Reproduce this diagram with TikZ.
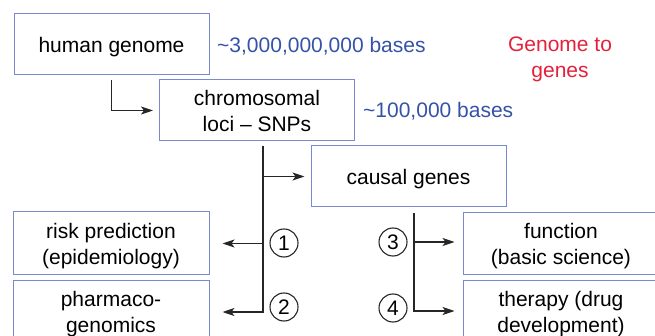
\documentclass[tikz,border=0pt]{standalone}
\usepackage{fontspec}
\setmainfont{Liberation Sans}
\usetikzlibrary{arrows.meta}
\definecolor{boxline}{RGB}{120,138,206}
\definecolor{basesblue}{RGB}{52,82,168}
\definecolor{titlered}{RGB}{228,32,58}
\begin{document}
\begin{tikzpicture}[x=1pt, y=-1pt, >={Stealth[length=12pt,width=8pt,inset=3pt]},
    font=\fontsize{21}{26}\selectfont]
      \tikzstyle{stage}=[draw=boxline, line width=1pt, rectangle, align=center,
        minimum width=195pt, minimum height=61pt, inner sep=0pt, text depth=0pt]
      \tikzstyle{link}=[->, line width=1.3pt, draw=black!85]
      \tikzstyle{num}=[circle, draw=black!85, line width=1.1pt, minimum size=28pt, inner sep=0pt]
      \useasboundingbox (0,0) rectangle (655,336);
      \clip (0,0) rectangle (655,336);
      % boxes
      \node[stage] (genome) at (111.5,44.5) {human genome};
      \node[stage] (loci) at (257,110.5) {chromosomal\\loci -- SNPs};
      \node[stage] (causal) at (408.5,176.5) {causal genes};
      \node[stage, minimum width=196pt, minimum height=63pt] (risk) at (111,243.5) {risk prediction\\(epidemiology)};
      \node[stage, minimum width=196pt, minimum height=62pt] (pharma) at (111,312) {pharmaco-\\genomics};
      \node[stage, minimum width=196pt, minimum height=62pt] (function) at (561,244) {function\\(basic science)};
      \node[stage, minimum width=196pt, minimum height=62pt] (therapy) at (561,312) {therapy (drug\\development)};
      % side notes
      \node[anchor=west, text=basesblue, inner sep=0pt] (bases3g) at (217,46) {\textasciitilde3,000,000,000 bases};
      \node[anchor=west, text=basesblue, inner sep=0pt] (bases100k) at (363,111) {\textasciitilde100,000 bases};
      \node[text=titlered, align=center, inner sep=0pt] (title) at (560,59) {Genome to\\genes};
      % connectors
      \coordinate (split1) at (263,146);
      \coordinate (split2) at (414,213);
      \draw[link] ([yshift=-5pt]genome.south) |- ([xshift=-6pt]loci.west);
      \draw[link] (split1) |- ([xshift=-6pt]causal.west);
      \draw[link] (split1) |- ([xshift=13pt]risk.east);
      \draw[link] (split1) |- ([xshift=13pt]pharma.east);
      \draw[link] (split2) |- ([xshift=-8pt,yshift=2pt]function.west);
      \draw[link] (split2) |- ([xshift=-8pt,yshift=1pt]therapy.west);
      % numbered routes
      \node[num] (n1) at (284,243) {1};
      \node[num] (n2) at (284,307) {2};
      \node[num] (n3) at (393,242) {3};
      \node[num] (n4) at (393,308) {4};
    \end{tikzpicture}
\end{document}
